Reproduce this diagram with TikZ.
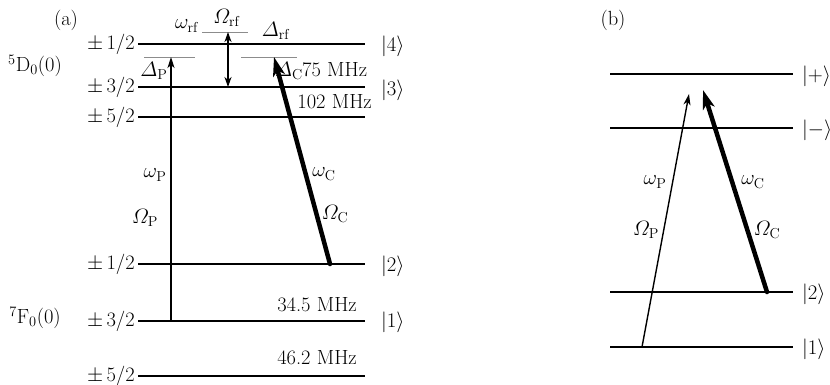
\documentclass[tikz,border=0pt]{standalone}
\usepackage{amsmath}
\usetikzlibrary{arrows.meta}
\begin{document}
\begin{tikzpicture}[x=1pt,y=-1pt,
  font=\fontsize{20.5}{24}\selectfont,
  level/.style={line width=1.6pt},
  aux/.style={black!45,line width=0.9pt},
  probe/.style={line width=1.4pt,-{Stealth[length=11pt,width=7pt,inset=3pt]}},
  couple/.style={line width=4.5pt,line cap=round,-{Stealth[length=19pt,width=12pt,inset=5pt]}},
  dbl/.style={line width=1.3pt,{Stealth[length=10pt,width=7pt,inset=3pt]}-{Stealth[length=10pt,width=7pt,inset=3pt]}},
  lbl/.style={inner sep=0pt}]
\useasboundingbox (0,0) rectangle (830,384);

% ---------- (a) ----------
\node[lbl] (pa) at (66,20) {(a)};
\node[lbl] (D0) at (35,66) {$^5$D$_0$(0)};
\node[lbl] (F0) at (35,318) {$^7$F$_0$(0)};

\foreach \nm/\yy/\tx in {a1/44/{1/2}, a2/87/{3/2}, a3/117/{5/2}, a4/264/{1/2}, a5/321/{3/2}, a6/376/{5/2}}{
  \coordinate (\nm L) at (138,\yy);
  \coordinate (\nm R) at (365,\yy);
  \draw[level] (\nm L) -- (\nm R);
  \node[lbl,anchor=east] (\nm T) at ([xshift=-3pt]\nm L) {$\pm$\,\tx};
}

\node[lbl,anchor=west] (k4) at (381,46) {$|4\rangle$};
\node[lbl,anchor=west] (k3) at (381,90) {$|3\rangle$};
\node[lbl,anchor=west] (k2) at (381,266) {$|2\rangle$};
\node[lbl,anchor=west] (k1) at (381,322) {$|1\rangle$};

% auxiliary gray lines
\coordinate (gtL) at (202,32); \coordinate (gtR) at (248,32);
\coordinate (glL) at (144,57); \coordinate (glR) at (195,57);
\coordinate (grL) at (241,57); \coordinate (grR) at (297,57);
\draw[aux] (gtL) -- (gtR);
\draw[aux] (glL) -- (glR);
\draw[aux] (grL) -- (grR);

% arrows
\coordinate (pS) at (171,321); \coordinate (pE) at (171,57);
\draw[probe] (pS) -- (pE);
\coordinate (rS) at (228,32); \coordinate (rE) at (228,87);
\draw[dbl] (rS) -- (rE);
\coordinate (cS) at (330,264); \coordinate (cE) at (274,57);
\draw[couple] (cS) -- (cE);

% labels
\node[lbl] (wrf) at (187,26) {$\omega_{\mathrm{rf}}$};
\node[lbl] (Orf) at (227,18) {$\varOmega_{\mathrm{rf}}$};
\node[lbl] (Drf) at (276,31) {$\varDelta_{\mathrm{rf}}$};
\node[lbl] (DP) at (154,71) {$\varDelta_{\mathrm{P}}$};
\node[lbl] (DC) at (289,71) {$\varDelta_{\mathrm{C}}$};
\node[lbl,anchor=west] (f75) at (302,70) {75 MHz};
\node[lbl,anchor=east] (f102) at (372,102) {102 MHz};
\node[lbl,anchor=east] (f345) at (357,305) {34.5 MHz};
\node[lbl,anchor=east] (f462) at (357,358) {46.2 MHz};
\node[lbl] (wP) at (155,175) {$\omega_{\mathrm{P}}$};
\node[lbl] (OP) at (145,218) {$\varOmega_{\mathrm{P}}$};
\node[lbl] (wC) at (324,174) {$\omega_{\mathrm{C}}$};
\node[lbl] (OC) at (335,214) {$\varOmega_{\mathrm{C}}$};

% ---------- (b) ----------
\node[lbl] (pb) at (613,20) {(b)};
\foreach \nm/\yy in {bp/74, bm/128, b2/292, b1/347}{
  \coordinate (\nm L) at (610,\yy);
  \coordinate (\nm R) at (793,\yy);
  \draw[level] (\nm L) -- (\nm R);
}
\node[lbl,anchor=west] (kp) at (802,76) {$|{+}\rangle$};
\node[lbl,anchor=west] (km) at (802,130) {$|{-}\rangle$};
\node[lbl,anchor=west] (kb2) at (802,294) {$|2\rangle$};
\node[lbl,anchor=west] (kb1) at (802,349) {$|1\rangle$};

\coordinate (bpS) at (642,347); \coordinate (bpE) at (689,94);
\draw[probe] (bpS) -- (bpE);
\coordinate (bcS) at (767,292); \coordinate (bcE) at (703,90);
\draw[couple] (bcS) -- (bcE);

\node[lbl] (bwP) at (655,182) {$\omega_{\mathrm{P}}$};
\node[lbl] (bOP) at (646,230) {$\varOmega_{\mathrm{P}}$};
\node[lbl] (bwC) at (753,182) {$\omega_{\mathrm{C}}$};
\node[lbl] (bOC) at (767,230) {$\varOmega_{\mathrm{C}}$};
\end{tikzpicture}
\end{document}
